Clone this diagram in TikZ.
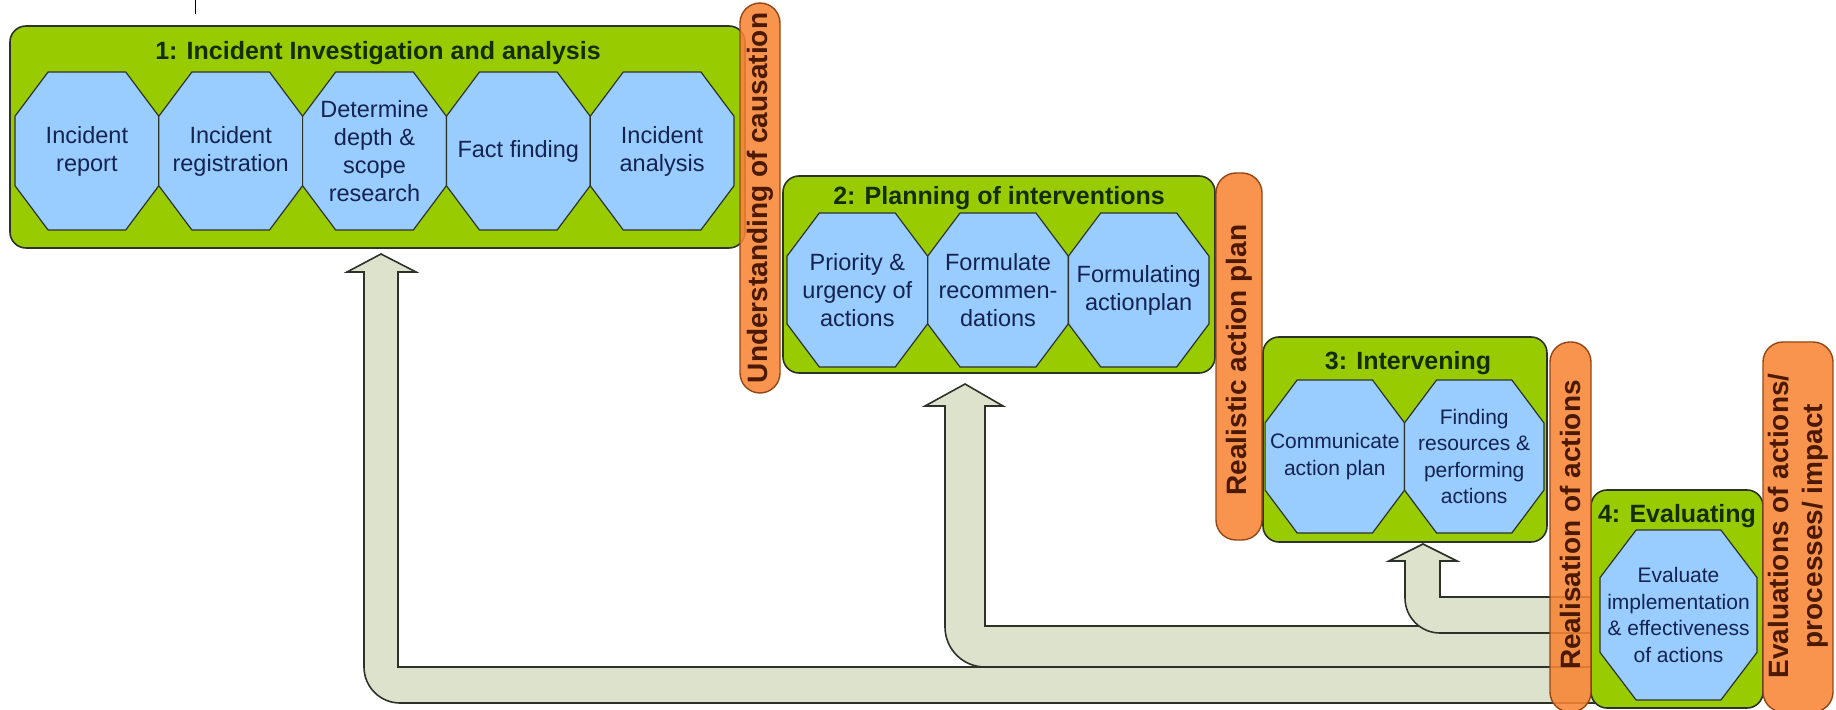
\documentclass[tikz,border=0pt]{standalone}
\usepackage{fontspec}
\setmainfont{Liberation Sans}
\definecolor{phasegreen}{RGB}{153,204,0}
\definecolor{octblue}{RGB}{153,204,255}
\definecolor{barorange}{RGB}{247,133,52}
\definecolor{barline}{RGB}{150,70,20}
\definecolor{arrowgrey}{RGB}{221,226,204}
\definecolor{titletext}{RGB}{20,45,5}
\definecolor{octtext}{RGB}{20,35,80}
\definecolor{bartext}{RGB}{75,25,0}
\definecolor{edge}{RGB}{45,50,40}
\begin{document}
\begin{tikzpicture}[x=0.5pt,y=-0.5pt]
    \tikzstyle{every node}+=[inner sep=0pt]
    \tikzstyle{phasebox}=[draw=edge, fill=phasegreen, line width=0.8pt, rounded corners=8pt]
    \tikzstyle{phasetitle}=[anchor=base, text=titletext, font=\fontsize{12.5}{15}\selectfont\bfseries]
    \tikzstyle{octo}=[draw=edge, fill=octblue, line width=0.6pt]
    \tikzstyle{octbig}=[align=center, text=octtext, font=\fontsize{11.75}{14}\selectfont]
    \tikzstyle{octsmall}=[align=center, text=octtext, font=\fontsize{10.5}{13.2}\selectfont]
    \tikzstyle{orangebar}=[draw=barline, fill=barorange, fill opacity=0.88, line width=0.7pt, rounded corners=10pt]
    \tikzstyle{bartxt}=[rotate=90, align=center, text=bartext, font=\fontsize{14}{17}\selectfont\bfseries]
    \tikzstyle{feedback}=[draw=edge, fill=arrowgrey, line width=0.8pt]
    \useasboundingbox (0,0) rectangle (1836,710);
    \draw [black, line width=0.5pt] (195,0) -- (195,14);
    % feedback arrows
    \draw [feedback] (381,254) -- (416,272) -- (398,272) -- (398,667) -- (1595,667) -- (1595,703) -- (400,703) arc [start angle=90, end angle=180, radius=36] -- (364,272) -- (347,272) -- cycle;
    \draw [feedback] (965,384) -- (1003,406) -- (985,406) -- (985,626) -- (1595,626) -- (1595,667) -- (985,667) arc [start angle=90, end angle=180, radius=40] -- (945,406) -- (925,406) -- cycle;
    \draw [feedback] (1423,544) -- (1457,561) -- (1440,561) -- (1440,597) -- (1595,597) -- (1595,633) -- (1440,633) arc [start angle=90, end angle=180, radius=35] -- (1405,561) -- (1389,561) -- cycle;
    % phases
    \draw [phasebox] (10,26) rectangle (745,248);
    \draw [phasebox] (783,176) rectangle (1215,373);
    \draw [phasebox] (1263,337) rectangle (1547,542);
    \draw [phasebox] (1591,490) rectangle (1763,708);
    \node [phasetitle] (t1) at (378,60) {1: Incident Investigation and analysis};
    \node [phasetitle] (t2) at (999,205) {2: Planning of interventions};
    \node [phasetitle] (t3) at (1408,370) {3: Intervening};
    \node [phasetitle] (t4) at (1677,523) {4: Evaluating};
    % steps
    \foreach \n/\cx/\cy/\w/\h/\st/\txt in {
        rep/86.9/151/71.9/79/octbig/{Incident\\report},
        reg/230.7/151/71.9/79/octbig/{Incident\\registration},
        dep/374.5/151/71.9/79/octbig/{Determine\\depth \&\\scope\\research},
        fact/518.3/151/71.9/79/octbig/{Fact finding},
        ana/662.1/151/71.9/79/octbig/{Incident\\analysis},
        pri/857.3/290/70.3/77/octbig/{Priority \&\\urgency of\\actions},
        rec/998/290/70.3/77/octbig/{Formulate\\recommen-\\dations},
        apl/1138.7/290/70.3/77/octbig/{Formulating\\actionplan},
        com/1334.8/456.5/69.7/76.5/octsmall/{Communicate\\action plan},
        res/1474.2/456.5/69.7/76.5/octsmall/{Finding\\resources \&\\performing\\actions},
        eva/1678.5/615/78.5/85/octsmall/{Evaluate\\implementation\\\& effectiveness\\of actions}}
    {
        \draw [octo] ({\cx-\w},{\cy-0.44*\h}) -- ({\cx-0.54*\w},{\cy-\h}) -- ({\cx+0.54*\w},{\cy-\h}) -- ({\cx+\w},{\cy-0.44*\h}) -- ({\cx+\w},{\cy+0.44*\h}) -- ({\cx+0.54*\w},{\cy+\h}) -- ({\cx-0.54*\w},{\cy+\h}) -- ({\cx-\w},{\cy+0.44*\h}) -- cycle;
        \node [\st] (\n) at (\cx,\cy) {\txt};
    }
    % results
    \draw [orangebar] (740,3) rectangle (780,393);
    \node [bartxt] (u1) at (760,198) {Understanding of causation};
    \draw [orangebar] (1216,173) rectangle (1262,540);
    \node [bartxt] (u2) at (1239,360) {Realistic action plan};
    \draw [orangebar] (1550,342) rectangle (1591,712);
    \node [bartxt] (u3) at (1570.5,525) {Realisation of actions};
    \draw [orangebar] (1763,342) rectangle (1833,712);
    \node [bartxt] (u4) at (1798,526) {Evaluations of actions/\\processes/ impact};
\end{tikzpicture}
\end{document}
